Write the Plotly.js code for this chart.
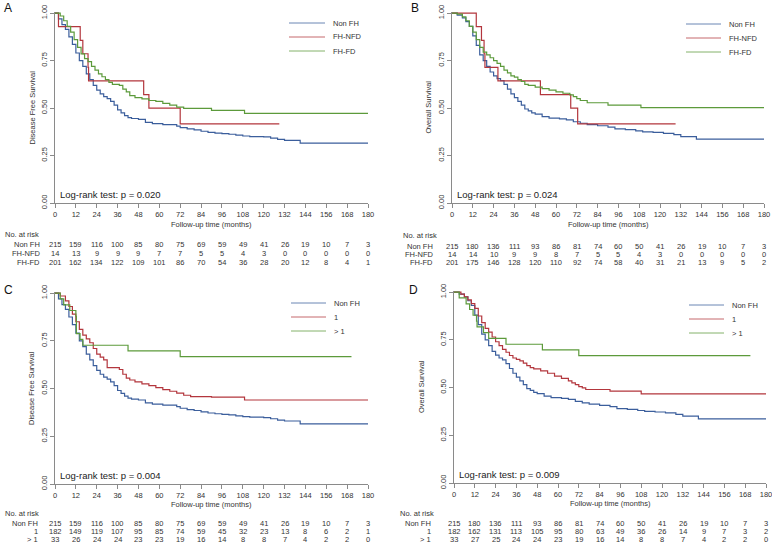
<!DOCTYPE html>
<html>
<head>
<meta charset="utf-8">
<script src="https://cdn.plot.ly/plotly-3.0.1.min.js"></script>
<style>
  html, body { margin: 0; padding: 0; background: #fff; }
  #chart { width: 772px; height: 545px; }
</style>
</head>
<body>
<div id="chart"></div>
<script>
/*
  Kaplan-Meier curves (DFS / OS) by family history, four panels with risk tables.
*/

// Tick months shared by every panel and risk table
const months = [0, 12, 24, 36, 48, 60, 72, 84, 96, 108, 120, 132, 144, 156, 168, 180];

// Non FH curves (same group in A/C and in B/D)
const nonFhDfsT = [0, 2, 4, 6, 8, 10, 12, 14, 16, 18, 20, 22, 24, 26, 28, 30, 32, 34, 36, 38, 40, 42, 44, 48, 52, 56, 62, 70, 72, 76, 80, 84, 88, 92, 96, 100, 104, 108, 112, 120, 124, 128, 132, 141, 180];
const nonFhDfsS = [1, 0.97, 0.94, 0.915, 0.875, 0.835, 0.79, 0.75, 0.72, 0.68, 0.65, 0.62, 0.595, 0.575, 0.56, 0.55, 0.535, 0.515, 0.49, 0.475, 0.46, 0.45, 0.445, 0.44, 0.425, 0.418, 0.413, 0.405, 0.397, 0.39, 0.385, 0.378, 0.372, 0.368, 0.365, 0.362, 0.357, 0.353, 0.35, 0.348, 0.342, 0.335, 0.33, 0.315, 0.315];
const nonFhOsT = [0, 3, 6, 8, 10, 12, 14, 16, 18, 20, 22, 24, 26, 28, 30, 32, 34, 36, 38, 40, 42, 44, 46, 48, 52, 56, 62, 66, 70, 74, 78, 84, 90, 94, 100, 106, 110, 116, 122, 128, 132, 141, 180];
const nonFhOsS = [1, 0.99, 0.975, 0.955, 0.93, 0.88, 0.83, 0.78, 0.75, 0.72, 0.69, 0.67, 0.655, 0.645, 0.625, 0.6, 0.575, 0.555, 0.535, 0.515, 0.495, 0.485, 0.475, 0.468, 0.455, 0.447, 0.443, 0.438, 0.428, 0.42, 0.413, 0.407, 0.4, 0.39, 0.386, 0.38, 0.375, 0.372, 0.367, 0.36, 0.35, 0.336, 0.336];

// Panel A / B: FH-NFD and FH-FD
const nfdDfsT = [0, 2, 14.5, 16, 19, 19.3, 51, 54, 72, 129];
const nfdDfsS = [1, 0.929, 0.857, 0.786, 0.714, 0.643, 0.571, 0.5, 0.417, 0.417];
const fdDfsT = [0, 3, 5, 7, 9, 11, 13, 15, 17, 19, 21, 23, 25, 27, 29, 31, 33, 37, 39, 41, 43, 46, 50, 54, 58, 62, 66, 70, 74, 90, 109, 180];
const fdDfsS = [1, 0.985, 0.96, 0.93, 0.9, 0.86, 0.82, 0.785, 0.76, 0.745, 0.72, 0.7, 0.68, 0.665, 0.65, 0.635, 0.625, 0.62, 0.6, 0.585, 0.566, 0.555, 0.548, 0.54, 0.535, 0.525, 0.515, 0.505, 0.498, 0.488, 0.472, 0.472];
const nfdOsT = [0, 14, 17, 18.5, 19, 26.5, 51, 68.5, 72.5, 129];
const nfdOsS = [1, 0.929, 0.857, 0.786, 0.714, 0.643, 0.571, 0.5, 0.417, 0.417];
const fdOsT = [0, 3, 6, 8, 10, 12, 14, 16, 18, 20, 22, 24, 26, 28, 30, 32, 34, 36, 38, 40, 42, 44, 48, 52, 56, 60, 64, 68, 70, 72, 74, 78, 90, 109, 180];
const fdOsS = [1, 0.995, 0.98, 0.96, 0.93, 0.9, 0.86, 0.82, 0.795, 0.78, 0.765, 0.75, 0.735, 0.72, 0.7, 0.685, 0.67, 0.663, 0.65, 0.64, 0.625, 0.62, 0.61, 0.602, 0.595, 0.585, 0.578, 0.57, 0.56, 0.55, 0.54, 0.528, 0.516, 0.502, 0.502];

// Panel C / D: 1 and > 1 relatives
const oneDfsT = [0, 3, 6, 8, 10, 12, 14, 16, 18, 20, 22, 24, 26, 28, 30, 37, 39, 41, 43, 46, 50, 54, 58, 62, 66, 70, 74, 78, 90, 109, 180];
const oneDfsS = [1, 0.985, 0.96, 0.93, 0.89, 0.85, 0.81, 0.78, 0.76, 0.74, 0.71, 0.68, 0.665, 0.65, 0.61, 0.6, 0.575, 0.555, 0.545, 0.535, 0.525, 0.515, 0.505, 0.495, 0.486, 0.476, 0.465, 0.458, 0.455, 0.44, 0.44];
const gt1DfsT = [0, 3, 5, 8.5, 12, 12.3, 14.4, 16, 42, 72, 170.5];
const gt1DfsS = [1, 0.97, 0.939, 0.909, 0.879, 0.788, 0.758, 0.727, 0.697, 0.667, 0.667];
const oneOsT = [0, 4, 6, 8, 10, 12, 14, 16, 18, 20, 22, 24, 26, 28, 30, 32, 34, 36, 38, 40, 42, 44, 46, 50, 54, 58, 62, 66, 68, 70, 72, 74, 76, 90, 108, 180];
const oneOsS = [1, 0.99, 0.975, 0.96, 0.94, 0.915, 0.875, 0.84, 0.81, 0.79, 0.765, 0.74, 0.72, 0.7, 0.685, 0.668, 0.655, 0.648, 0.64, 0.628, 0.615, 0.605, 0.598, 0.588, 0.575, 0.56, 0.548, 0.535, 0.525, 0.515, 0.505, 0.498, 0.49, 0.481, 0.467, 0.467];
const gt1OsT = [0, 3, 7, 9, 11, 13, 13.3, 17, 20, 30, 51, 72, 171];
const gt1OsS = [1, 0.97, 0.939, 0.909, 0.879, 0.848, 0.818, 0.788, 0.758, 0.727, 0.697, 0.667, 0.667];

// Numbers at risk
const riskANonFh = [215, 159, 116, 100, 85, 80, 75, 69, 59, 49, 41, 26, 19, 10, 7, 3];
const riskANfd = [14, 13, 9, 9, 9, 7, 7, 5, 5, 4, 3, 0, 0, 0, 0, 0];
const riskAFd = [201, 162, 134, 122, 109, 101, 86, 70, 54, 36, 28, 20, 12, 8, 4, 1];
const riskBNonFh = [215, 180, 136, 111, 93, 86, 81, 74, 60, 50, 41, 26, 19, 10, 7, 3];
const riskBNfd = [14, 14, 10, 9, 9, 8, 7, 5, 5, 4, 3, 0, 0, 0, 0, 0];
const riskBFd = [201, 175, 146, 128, 120, 110, 92, 74, 58, 40, 31, 21, 13, 9, 5, 2];
const riskCOne = [182, 149, 119, 107, 95, 85, 74, 59, 45, 32, 23, 13, 8, 6, 2, 1];
const riskCGt1 = [33, 26, 24, 24, 23, 23, 19, 16, 14, 8, 8, 7, 4, 2, 2, 0];
const riskDOne = [182, 162, 131, 113, 105, 95, 80, 63, 49, 36, 26, 14, 9, 7, 3, 2];
const riskDGt1 = [33, 27, 25, 24, 24, 23, 19, 16, 14, 8, 8, 7, 4, 2, 2, 0];

const BLUE = '#3b5e9c';
const RED = '#b3363d';
const GREEN = '#5c9a3b';
const AXIS = '#8a8a8a';
const TEXT = '#333333';
const FONT = 'Liberation Sans, Arial, Helvetica, sans-serif';

const W = 772, H = 545;
const px = x => x / W;
const py = y => 1 - y / H;

// Panel frames in pixels: left, right, top, bottom
const panels = [
  { id: '', letter: 'A', box: [55, 368, 12, 203], ytitle: 'Disease Free Survival', p: 'Log-rank test: p = 0.020',
    curves: [[nonFhDfsT, nonFhDfsS, BLUE], [nfdDfsT, nfdDfsS, RED], [fdDfsT, fdDfsS, GREEN]],
    names: ['Non FH', 'FH-NFD', 'FH-FD'], risk: [riskANonFh, riskANfd, riskAFd],
    leg: [289, 325, 23], letterXY: [2, 8], labelRight: 42, headX: 3, tableY: [234, 245, 253.5, 262], yTitleX: 32, xTitleY: 224 },
  { id: '2', letter: 'B', box: [452, 764, 12, 203], ytitle: 'Overall Survival', p: 'Log-rank test: p = 0.024',
    curves: [[nonFhOsT, nonFhOsS, BLUE], [nfdOsT, nfdOsS, RED], [fdOsT, fdOsS, GREEN]],
    names: ['Non FH', 'FH-NFD', 'FH-FD'], risk: [riskBNonFh, riskBNfd, riskBFd],
    leg: [686, 721, 24], letterXY: [409, 8], labelRight: 435, headX: 401, tableY: [235, 246, 254, 262], yTitleX: 428, xTitleY: 225 },
  { id: '3', letter: 'C', box: [55, 368, 292, 484], ytitle: 'Disease Free Survival', p: 'Log-rank test: p = 0.004',
    curves: [[nonFhDfsT, nonFhDfsS, BLUE], [oneDfsT, oneDfsS, RED], [gt1DfsT, gt1DfsS, GREEN]],
    names: ['Non FH', '1', '> 1'], risk: [riskANonFh, riskCOne, riskCGt1],
    leg: [291, 326, 303], letterXY: [2, 290], labelRight: 40, headX: 3, tableY: [513, 523, 531, 539], yTitleX: 31, xTitleY: 504 },
  { id: '4', letter: 'D', box: [454, 766, 291, 483], ytitle: 'Overall Survival', p: 'Log-rank test: p = 0.009',
    curves: [[nonFhOsT, nonFhOsS, BLUE], [oneOsT, oneOsS, RED], [gt1OsT, gt1OsS, GREEN]],
    names: ['Non FH', '1', '> 1'], risk: [riskBNonFh, riskDOne, riskDGt1],
    leg: [689, 724, 305], letterXY: [407, 290], labelRight: 433, headX: 398, tableY: [513, 523, 531, 539], yTitleX: 421, xTitleY: 503 },
];

const traces = [];
const annotations = [];
const shapes = [];
const layout = {
  width: W, height: H,
  margin: { t: 0, r: 0, l: 0, b: 0 },
  paper_bgcolor: '#ffffff',
  plot_bgcolor: '#ffffff',
  showlegend: false,
  font: { family: FONT, size: 7.5, color: TEXT },
};

panels.forEach(pn => {
  const [l, r, t, b] = pn.box;
  const xa = 'x' + pn.id, ya = 'y' + pn.id;

  pn.curves.forEach(([tt, ss, color], i) => {
    traces.push({
      x: tt, y: ss, xaxis: xa, yaxis: ya, name: pn.names[i],
      type: 'scatter', mode: 'lines',
      line: { shape: 'hv', color: color, width: 1.2 },
      hoverinfo: 'skip',
    });
  });

  layout['xaxis' + pn.id] = {
    domain: [px(l), px(r)], anchor: ya, range: [0, 180],
    tickvals: months, ticks: 'outside', ticklen: 4, tickcolor: AXIS, tickwidth: 1,
    showline: true, linecolor: AXIS, linewidth: 1, showgrid: false, zeroline: false,
    ticklabeloverflow: 'allow',
    tickfont: { size: 7.5, color: TEXT },
  };
  layout['yaxis' + pn.id] = {
    domain: [py(b), py(t)], anchor: xa, range: [0, 1.006],
    tickvals: [0, 0.25, 0.5, 0.75, 1], tickformat: '.2f', tickangle: -90,
    ticks: 'outside', ticklen: 4, tickcolor: AXIS, tickwidth: 1,
    showline: true, linecolor: AXIS, linewidth: 1, showgrid: false, zeroline: false,
    tickfont: { size: 7.5, color: TEXT },
  };

  // Panel letter
  annotations.push({ text: pn.letter, xref: 'paper', yref: 'paper', x: px(pn.letterXY[0]), y: py(pn.letterXY[1]),
    xanchor: 'left', yanchor: 'middle', showarrow: false, font: { size: 12, color: '#111' } });
  // Axis titles
  annotations.push({ text: pn.ytitle, xref: 'paper', yref: 'paper', x: px(pn.yTitleX), y: py((t + b) / 2),
    textangle: -90, xanchor: 'center', yanchor: 'middle', showarrow: false, font: { size: 7.5 } });
  annotations.push({ text: 'Follow-up time (months)', xref: 'paper', yref: 'paper', x: px((l + r) / 2), y: py(pn.xTitleY),
    xanchor: 'center', yanchor: 'middle', showarrow: false, font: { size: 7.5 } });
  // Log-rank
  annotations.push({ text: pn.p, xref: 'paper', yref: 'paper', x: px(l + 3), y: py(b - 9),
    xanchor: 'left', yanchor: 'middle', showarrow: false, font: { size: 9.5, color: '#222' } });

  // Legend keys
  const [lx0, lx1, ly0] = pn.leg;
  pn.names.forEach((nm, i) => {
    const yy = ly0 + i * 14;
    shapes.push({ type: 'line', xref: 'paper', yref: 'paper', x0: px(lx0), x1: px(lx1), y0: py(yy), y1: py(yy),
      line: { color: pn.curves[i][2], width: 1 }, opacity: 0.75 });
    annotations.push({ text: nm, xref: 'paper', yref: 'paper', x: px(lx1 + 6), y: py(yy),
      xanchor: 'left', yanchor: 'middle', showarrow: false, font: { size: 7.5 } });
  });

  // Risk table
  annotations.push({ text: 'No. at risk', xref: 'paper', yref: 'paper', x: px(pn.headX), y: py(pn.tableY[0]),
    xanchor: 'left', yanchor: 'middle', showarrow: false, font: { size: 7.5 } });
  pn.risk.forEach((row, i) => {
    const yy = py(pn.tableY[i + 1]);
    annotations.push({ text: pn.names[i], xref: 'paper', yref: 'paper', x: px(pn.labelRight), y: yy,
      xanchor: 'right', yanchor: 'middle', showarrow: false, font: { size: 7.5 } });
    row.forEach((n, j) => {
      annotations.push({ text: String(n), xref: xa, yref: 'paper', x: months[j], y: yy,
        xanchor: 'center', yanchor: 'middle', showarrow: false, font: { size: 7.5 } });
    });
  });
});

layout.annotations = annotations;
layout.shapes = shapes;

Plotly.newPlot('chart', traces, layout, { displayModeBar: false, staticPlot: true });
</script>
</body>
</html>
